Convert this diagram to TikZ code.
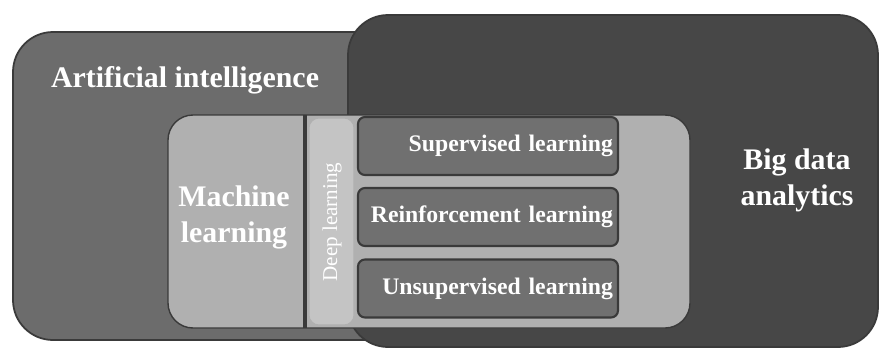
\documentclass[tikz,border=0pt]{standalone}
\usepackage{fontspec}
\setmainfont{Liberation Serif}
\usepackage{tikz}

\definecolor{aigray}{HTML}{6C6C6C}
\definecolor{bdgray}{HTML}{474747}
\definecolor{mlgray}{HTML}{B0B0B0}
\definecolor{dlgray}{HTML}{C4C4C4}
\definecolor{lbgray}{HTML}{707070}
\definecolor{edgegray}{HTML}{3A3A3A}

\tikzset{
	label/.style={text=white, font=\bfseries\fontsize{17}{20.5}\selectfont, align=center},
	learnbox/.style={fill=lbgray, draw=edgegray, line width=1.2pt, rounded corners=4pt,
		minimum width=5.2cm, minimum height=1.16cm, inner xsep=0.1cm, inner ysep=0pt,
		text width=5.0cm, align=right,
		text=white, font=\bfseries\fontsize{13.5}{16}\selectfont}
}

\begin{document}
\begin{tikzpicture}
		\useasboundingbox (0,0) rectangle (17.66,7);
		\fill[white] (0,0) rectangle (17.66,7);
		\filldraw[fill=aigray, draw=edgegray, line width=1pt, rounded corners=0.8cm] (0.26,0.2) rectangle (12,6.36);
		\filldraw[fill=bdgray, draw=edgegray, line width=1pt, rounded corners=0.8cm] (6.96,0.06) rectangle (17.56,6.7);
		\filldraw[fill=mlgray, draw=edgegray, line width=0.8pt, rounded corners=0.5cm] (3.36,0.44) rectangle (13.8,4.7);
		\draw[edgegray, line width=2.5pt] (6.1,0.44) -- (6.1,4.7);
		\filldraw[fill=dlgray, draw=mlgray, line width=0.6pt, rounded corners=0.2cm] (6.18,0.5) rectangle (7.08,4.64);
		\node[label] (ai) at (3.7,5.4) {Artificial intelligence};
		\node[label] (bd) at (15.94,3.4) {Big data\\analytics};
		\node[label] (ml) at (4.68,2.66) {Machine\\learning};
		\node[text=white, font=\fontsize{12}{14}\selectfont, rotate=90] (dl) at (6.64,2.56) {Deep learning};
		\node[learnbox] (sup) at (9.76,4.08) {Supervised learning};
		\node[learnbox] (rein) at (9.76,2.66) {Reinforcement\ learning};
		\node[learnbox] (unsup) at (9.76,1.23) {Unsupervised learning};
	\end{tikzpicture}
\end{document}
